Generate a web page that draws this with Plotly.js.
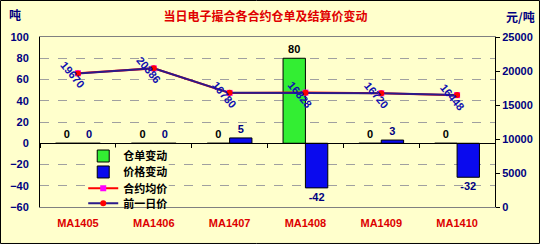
<!DOCTYPE html>
<html>
<head>
<meta charset="utf-8">
<script src="https://cdn.plot.ly/plotly-3.0.1.min.js"></script>
<style>
  html, body { margin: 0; padding: 0; background: #FFFFFF; }
  #chart { width: 542px; height: 247px; }
</style>
</head>
<body>
<div id="chart"></div>
<script>
// Contracts
const contracts = ['MA1405', 'MA1406', 'MA1407', 'MA1408', 'MA1409', 'MA1410'];
// Warehouse receipt change (tons)
const receiptChange = [0, 0, 0, 80, 0, 0];
// Settlement price change (yuan/ton)
const priceChange = [0, 0, 5, -42, 3, -32];
// Contract average price (yuan/ton)
const avgPrice = [19670, 20386, 16780, 16828, 16720, 16448];
// Previous day price (yuan/ton)
const prevPrice = [19640, 20390, 16790, 16800, 16740, 16460];

const navy = '#000080';
const numFont = { family: 'Liberation Sans, Arial, sans-serif', size: 11, color: navy, weight: 'bold' };
const idx = contracts.map((_, i) => i);

const traces = [
  {
    type: 'bar', name: '仓单变动', x: idx, y: receiptChange, legend: 'legend',
    marker: { color: '#33EE33', line: { color: '#000000', width: 1 } },
    text: receiptChange.map(String), textposition: 'outside', cliponaxis: false,
    textfont: Object.assign({}, numFont, { color: '#000000' })
  },
  {
    type: 'bar', name: '价格变动', x: idx, y: priceChange, legend: 'legend2',
    marker: { color: '#0A0AEE', line: { color: '#000000', width: 1 } },
    text: priceChange.map(String), textposition: 'outside', cliponaxis: false,
    textfont: numFont
  },
  {
    type: 'scatter', mode: 'lines+markers', name: '合约均价', x: idx, y: avgPrice,
    yaxis: 'y2', legend: 'legend3', line: { color: '#FF0000', width: 2 },
    marker: { color: '#FF00FF', size: 6, symbol: 'square' }
  },
  {
    type: 'scatter', mode: 'lines+markers', name: '前一日价', x: idx, y: prevPrice,
    yaxis: 'y2', legend: 'legend4', line: { color: '#2A1A8A', width: 2 },
    marker: { color: '#FF0000', size: 6 }
  },
  // carrier for the category axis drawn through zero
  {
    type: 'scatter', x: [-0.5], y: [0], xaxis: 'x2', yaxis: 'y',
    mode: 'markers', marker: { opacity: 0 }, showlegend: false, hoverinfo: 'skip'
  }
];

const yMin = -60, yMax = 100;
const zeroPos = (0 - yMin) / (yMax - yMin);
const boundaries = contracts.map((_, i) => i - 0.5).concat([contracts.length - 0.5]);

const annotations = avgPrice.map((v, i) => ({
  x: i, y: v, xref: 'x', yref: 'y2', text: String(v), showarrow: false,
  textangle: 50, xshift: -5, yshift: -2,
  font: { family: 'Liberation Sans, Arial, sans-serif', size: 11, color: '#1010B0', weight: 'bold' }
}));
annotations.push(
  { xref: 'paper', yref: 'paper', x: -0.055, y: 1.13, xanchor: 'center', yanchor: 'middle', text: '吨',
    showarrow: false, font: { family: 'Noto Sans CJK SC', size: 12, color: navy, weight: 'bold' } },
  { xref: 'paper', yref: 'paper', x: 1.055, y: 1.118, xanchor: 'center', yanchor: 'middle', text: '元/吨',
    showarrow: false, font: { family: 'Noto Sans CJK SC', size: 12, color: navy, weight: 'bold' } }
);

// one small legend box per series so the rows can sit close together
function legendAt(yPos) {
  return {
    x: 0.095, y: yPos, xanchor: 'left', yanchor: 'middle',
    bgcolor: 'rgba(0,0,0,0)', borderwidth: 0, itemwidth: 30,
    font: { family: 'Noto Sans CJK SC', size: 11, color: '#000000', weight: 'bold' }
  };
}

const layout = {
  width: 542, height: 247,
  margin: { l: 40, r: 47, t: 37, b: 40 },
  paper_bgcolor: '#FFFFFF', plot_bgcolor: '#FFFFCC',
  title: {
    text: '当日电子撮合各合约仓单及结算价变动',
    x: 0.49, xanchor: 'center', y: 0.93, yanchor: 'middle',
    font: { family: 'Noto Sans CJK SC', size: 12, color: '#E00000', weight: 'bold' }
  },
  barmode: 'group', bargap: 0.41, bargroupgap: 0,
  showlegend: true,
  legend: legendAt(0.300),
  legend2: legendAt(0.206),
  legend3: legendAt(0.110),
  legend4: legendAt(0.022),
  xaxis: {
    range: [-0.5, contracts.length - 0.5], tickvals: idx, ticktext: contracts,
    showgrid: false, zeroline: false, showline: true, linecolor: '#808080', mirror: true,
    ticks: '', ticklabelstandoff: 6,
    tickfont: { family: 'Liberation Sans, Arial, sans-serif', size: 11, color: '#DD0000', weight: 'bold' }
  },
  xaxis2: {
    range: [-0.5, contracts.length - 0.5], overlaying: 'x', anchor: 'free', position: zeroPos,
    tickvals: boundaries, ticks: 'outside', ticklen: 4, tickcolor: '#000000',
    showticklabels: false, showgrid: false, zeroline: false,
    showline: true, linecolor: '#000000', linewidth: 1
  },
  yaxis: {
    range: [yMin, yMax], dtick: 20, tick0: 0,
    showgrid: true, gridcolor: '#A0A0A0', griddash: 'dash', gridwidth: 1,
    zeroline: false, showline: true, linecolor: '#000000',
    ticks: '', ticklabelstandoff: 8,
    tickfont: numFont
  },
  yaxis2: {
    range: [0, 25000], dtick: 5000, overlaying: 'y', side: 'right',
    tickformat: 'd', exponentformat: 'none',
    showgrid: false, zeroline: false, showline: true, linecolor: '#000000',
    ticks: 'outside', ticklen: 4, tickcolor: '#000000',
    tickfont: numFont
  },
  annotations: annotations,
  shapes: [
    // pale yellow card behind the whole chart, with a black frame
    { type: 'rect', xref: 'paper', yref: 'paper',
      x0: -0.0868, x1: 1.0978, y0: -0.2147, y1: 1.2147,
      line: { color: '#000000', width: 1 }, fillcolor: '#FFFFCC', layer: 'below' },
    // backing panel under the legend rows
    { type: 'rect', xref: 'paper', yref: 'paper',
      x0: 0.105, x1: 0.283, y0: 0.003, y1: 0.35,
      line: { width: 0 }, fillcolor: '#FFFFCC', layer: 'above' }
  ]
};

Plotly.newPlot('chart', traces, layout, { displayModeBar: false, staticPlot: true });
</script>
</body>
</html>
